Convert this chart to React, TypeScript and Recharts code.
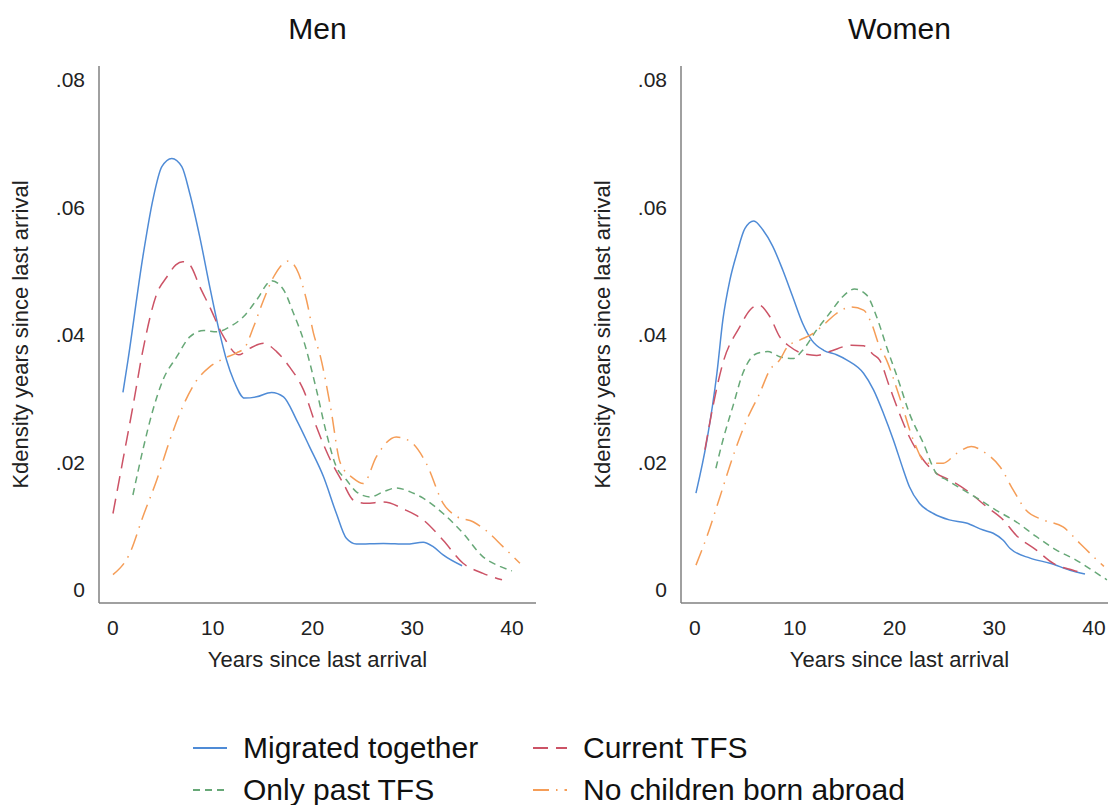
import React from "react";
import { Line, LineChart, XAxis, YAxis } from "recharts";

const FONT = '"Liberation Sans", Arial, Helvetica, sans-serif';

type Pair = [number, number];

// kernel density of years since last arrival, read as [years, density]
const menTogether: Pair[] = [
  [1.0, 0.031], [1.5, 0.036], [3.0, 0.0523], [4.0, 0.0612], [4.9, 0.0664], [5.9, 0.0677],
  [6.9, 0.0664], [7.7, 0.0622], [8.7, 0.0554], [9.7, 0.0476], [10.7, 0.0403], [11.4, 0.036],
  [12.1, 0.0329], [13.2, 0.0301], [14.4, 0.0303], [15.9, 0.031], [17.1, 0.0303], [18.4, 0.0267],
  [19.7, 0.0225], [21.1, 0.0178], [22.4, 0.012], [23.4, 0.0081], [24.4, 0.0072], [27.1, 0.0073],
  [29.4, 0.0072], [31.1, 0.0075], [32.1, 0.0068], [33.1, 0.0055], [35.0, 0.0038],
];
const menCurrent: Pair[] = [
  [0, 0.012], [1.0, 0.0204], [2.0, 0.0288], [3.0, 0.0376], [4.4, 0.0465], [5.4, 0.0491],
  [6.3, 0.051], [7.0, 0.0515], [7.7, 0.051], [8.7, 0.0476], [9.7, 0.0444], [11.1, 0.0397],
  [12.6, 0.0369], [13.7, 0.0379], [15.1, 0.0387], [16.4, 0.0374], [17.7, 0.035], [19.1, 0.0314],
  [20.4, 0.0256], [21.8, 0.0204], [23.1, 0.0167], [24.1, 0.0141], [25.4, 0.0136], [27.1, 0.0138],
  [29.4, 0.0125], [31.1, 0.011], [33.1, 0.0078], [35.1, 0.0042], [37.1, 0.0026], [39.0, 0.0016],
];
const menPast: Pair[] = [
  [2.0, 0.0149], [3.0, 0.022], [4.0, 0.0282], [5.0, 0.0329], [6.4, 0.0366], [7.7, 0.0397],
  [9.1, 0.0407], [10.4, 0.0405], [11.7, 0.0413], [13.1, 0.0429], [14.4, 0.0455], [15.9, 0.0485],
  [17.1, 0.0471], [18.1, 0.0434], [19.1, 0.0392], [20.4, 0.0314], [21.4, 0.0246], [22.4, 0.0193],
  [23.4, 0.0173], [24.4, 0.0154], [25.8, 0.0146], [27.1, 0.0154], [28.4, 0.016], [29.8, 0.0154],
  [31.1, 0.0144], [33.1, 0.012], [35.1, 0.0089], [37.1, 0.0052], [38.8, 0.0037], [40.0, 0.003],
];
const menNoChildren: Pair[] = [
  [0, 0.0024], [1.7, 0.0058], [3.0, 0.0115], [4.4, 0.0173], [5.7, 0.0235], [7.0, 0.0288],
  [8.4, 0.0329], [9.7, 0.035], [11.1, 0.0363], [12.4, 0.0372], [13.2, 0.038], [14.1, 0.0413],
  [15.1, 0.0455], [16.1, 0.0491], [17.6, 0.0516], [18.6, 0.0497], [19.4, 0.0455], [20.1, 0.0403],
  [20.8, 0.0366], [21.8, 0.0288], [22.8, 0.0199], [24.1, 0.0175], [25.1, 0.0167], [26.4, 0.0209],
  [28.4, 0.024], [29.8, 0.0233], [31.4, 0.0199], [33.1, 0.0136], [34.5, 0.0115], [36.1, 0.0107],
  [37.5, 0.0092], [39.1, 0.0068], [40.8, 0.0042],
];

const womenTogether: Pair[] = [
  [0.1, 0.0152], [1.2, 0.0235], [2.2, 0.034], [2.8, 0.0424], [3.5, 0.0486], [4.2, 0.0528],
  [5.0, 0.0567], [5.9, 0.0579], [6.8, 0.0565], [7.8, 0.0539], [8.8, 0.0502], [9.8, 0.046],
  [10.8, 0.0418], [11.7, 0.0392], [12.9, 0.0376], [14.2, 0.0369], [15.2, 0.0361], [16.9, 0.034],
  [17.9, 0.0314], [18.9, 0.0277], [19.9, 0.0235], [20.9, 0.0188], [21.5, 0.0162], [22.5, 0.0136],
  [23.9, 0.012], [25.5, 0.011], [27.2, 0.0105], [28.9, 0.0094], [29.9, 0.0089], [30.9, 0.0078],
  [31.6, 0.0065], [33.6, 0.005], [35.6, 0.0042], [37.6, 0.0031], [39.1, 0.0025],
];
const womenCurrent: Pair[] = [
  [1.0, 0.022], [1.8, 0.0288], [2.8, 0.0356], [4.5, 0.0413], [5.5, 0.0439], [6.4, 0.0447],
  [7.5, 0.0429], [8.5, 0.0397], [9.5, 0.0382], [10.8, 0.0371], [12.2, 0.0368], [13.5, 0.0374],
  [15.7, 0.0384], [16.9, 0.0383], [17.9, 0.0369], [18.5, 0.0361], [19.5, 0.0319], [20.5, 0.0277],
  [21.5, 0.024], [22.9, 0.0204], [24.2, 0.0183], [25.5, 0.0173], [27.6, 0.0152], [29.2, 0.0131],
  [30.9, 0.011], [32.2, 0.0086], [34.2, 0.0063], [35.9, 0.0042], [37.9, 0.0031], [39.0, 0.0026],
];
const womenPast: Pair[] = [
  [2.1, 0.0191], [2.8, 0.0235], [3.8, 0.0288], [4.8, 0.034], [6.2, 0.0371], [7.3, 0.0374],
  [8.5, 0.0366], [9.8, 0.0363], [10.8, 0.0376], [12.2, 0.0408], [13.5, 0.0434], [14.8, 0.046],
  [16.0, 0.0472], [17.2, 0.0463], [18.2, 0.0429], [19.2, 0.0382], [20.5, 0.0324], [21.5, 0.0277],
  [22.9, 0.023], [24.2, 0.0183], [25.2, 0.0173], [26.9, 0.0157], [28.6, 0.0141], [30.2, 0.0125],
  [32.2, 0.0107], [34.2, 0.0084], [36.2, 0.0063], [38.2, 0.0047], [40.3, 0.0026], [41.3, 0.0016],
];
const womenNoChildren: Pair[] = [
  [0.1, 0.0039], [1.2, 0.0084], [2.5, 0.0146], [3.8, 0.0209], [5.2, 0.0267], [6.5, 0.0309],
  [7.5, 0.0345], [8.5, 0.0361], [9.3, 0.0382], [10.5, 0.0392], [11.9, 0.0403], [12.9, 0.0416],
  [14.2, 0.0434], [15.7, 0.0444], [16.9, 0.0439], [17.7, 0.0418], [18.5, 0.0382], [19.2, 0.0361],
  [20.5, 0.0303], [21.9, 0.0235], [23.2, 0.0199], [24.9, 0.0199], [26.2, 0.0214], [27.7, 0.0225],
  [29.2, 0.0214], [30.6, 0.0193], [31.9, 0.0157], [33.2, 0.0125], [34.9, 0.011], [36.9, 0.0099],
  [38.6, 0.0073], [40.3, 0.0047], [41.0, 0.0037],
];

const xTicks = [0, 10, 20, 30, 40];
const yTicks = [0, 0.02, 0.04, 0.06, 0.08];

const SERIES = [
  { name: "Migrated together", color: "#4f8bd6", dash: undefined as string | undefined },
  { name: "Current TFS", color: "#cc5366", dash: "15 8" },
  { name: "Only past TFS", color: "#67a877", dash: "7 5" },
  { name: "No children born abroad", color: "#f59d57", dash: "16 7 1.5 7" },
];

const toRows = (pairs: Pair[]) => pairs.map(([x, y]) => ({ x, y }));

const fmtDensity = (v: number) => (v === 0 ? "0" : v.toFixed(2).replace(/^0/, ""));

function Panel({ left, title, series }: { left: number; title: string; series: Pair[][] }) {
  const axisStyle = { stroke: "#808080", strokeWidth: 1.5 };
  const tickStyle = { fill: "#222", fontSize: 21, fontFamily: FONT };
  return (
    <div style={{ position: "absolute", left, top: 0 }}>
      <div
        style={{
          position: "absolute",
          left: 99,
          width: 437,
          top: 10,
          textAlign: "center",
          fontSize: 30,
          lineHeight: "38px",
          color: "#111",
        }}
      >
        {title}
      </div>
      <LineChart width={560} height={700} margin={{ top: 66, right: 24, bottom: 0, left: 0 }}>
        <XAxis
          type="number"
          dataKey="x"
          domain={[-1.4, 42.41]}
          ticks={xTicks}
          allowDataOverflow
          height={97}
          tickLine={false}
          tickSize={0}
          tickMargin={17}
          axisLine={axisStyle}
          tick={tickStyle}
          label={{
            value: "Years since last arrival",
            position: "insideBottom",
            offset: 33,
            fill: "#222",
            fontSize: 22,
            fontFamily: FONT,
          }}
        />
        <YAxis
          type="number"
          dataKey="y"
          domain={[-0.00204, 0.0822]}
          ticks={yTicks}
          allowDataOverflow
          width={99}
          tickLine={false}
          tickSize={0}
          tickMargin={14}
          axisLine={axisStyle}
          tick={tickStyle}
          tickFormatter={fmtDensity}
          label={{
            value: "Kdensity years since last arrival",
            angle: -90,
            position: "insideLeft",
            offset: 20,
            fill: "#222",
            fontSize: 22,
            fontFamily: FONT,
            style: { textAnchor: "middle" },
          }}
        />
        {series.map((pairs, i) => (
          <Line
            key={SERIES[i].name}
            data={toRows(pairs)}
            dataKey="y"
            type="monotone"
            dot={false}
            activeDot={false}
            stroke={SERIES[i].color}
            strokeDasharray={SERIES[i].dash}
            strokeWidth={1.5}
            isAnimationActive={false}
          />
        ))}
      </LineChart>
    </div>
  );
}

function LegendSwatch({ color, dash }: { color: string; dash?: string }) {
  return (
    <svg width={34} height={10} style={{ display: "block" }}>
      <line x1={0} y1={5} x2={34} y2={5} stroke={color} strokeWidth={2} strokeDasharray={dash} />
    </svg>
  );
}

function SharedLegend() {
  const cols = [193, 533];
  const rows = [748, 790];
  return (
    <>
      {SERIES.map((s, i) => {
        const x = cols[i % 2];
        const y = rows[Math.floor(i / 2)];
        return (
          <div
            key={s.name}
            style={{ position: "absolute", left: x, top: y - 19, height: 38, display: "flex", alignItems: "center" }}
          >
            <LegendSwatch color={s.color} dash={s.dash} />
            <span style={{ marginLeft: 16, fontSize: 30, lineHeight: "38px", color: "#111", whiteSpace: "nowrap" }}>
              {s.name}
            </span>
          </div>
        );
      })}
    </>
  );
}

export default function App() {
  return (
    <div
      style={{
        position: "absolute",
        left: 0,
        top: 0,
        width: 1108,
        height: 805,
        overflow: "hidden",
        background: "#fff",
        fontFamily: FONT,
      }}
    >
      <Panel left={0} title="Men" series={[menTogether, menCurrent, menPast, menNoChildren]} />
      <Panel left={582} title="Women" series={[womenTogether, womenCurrent, womenPast, womenNoChildren]} />
      <SharedLegend />
    </div>
  );
}
